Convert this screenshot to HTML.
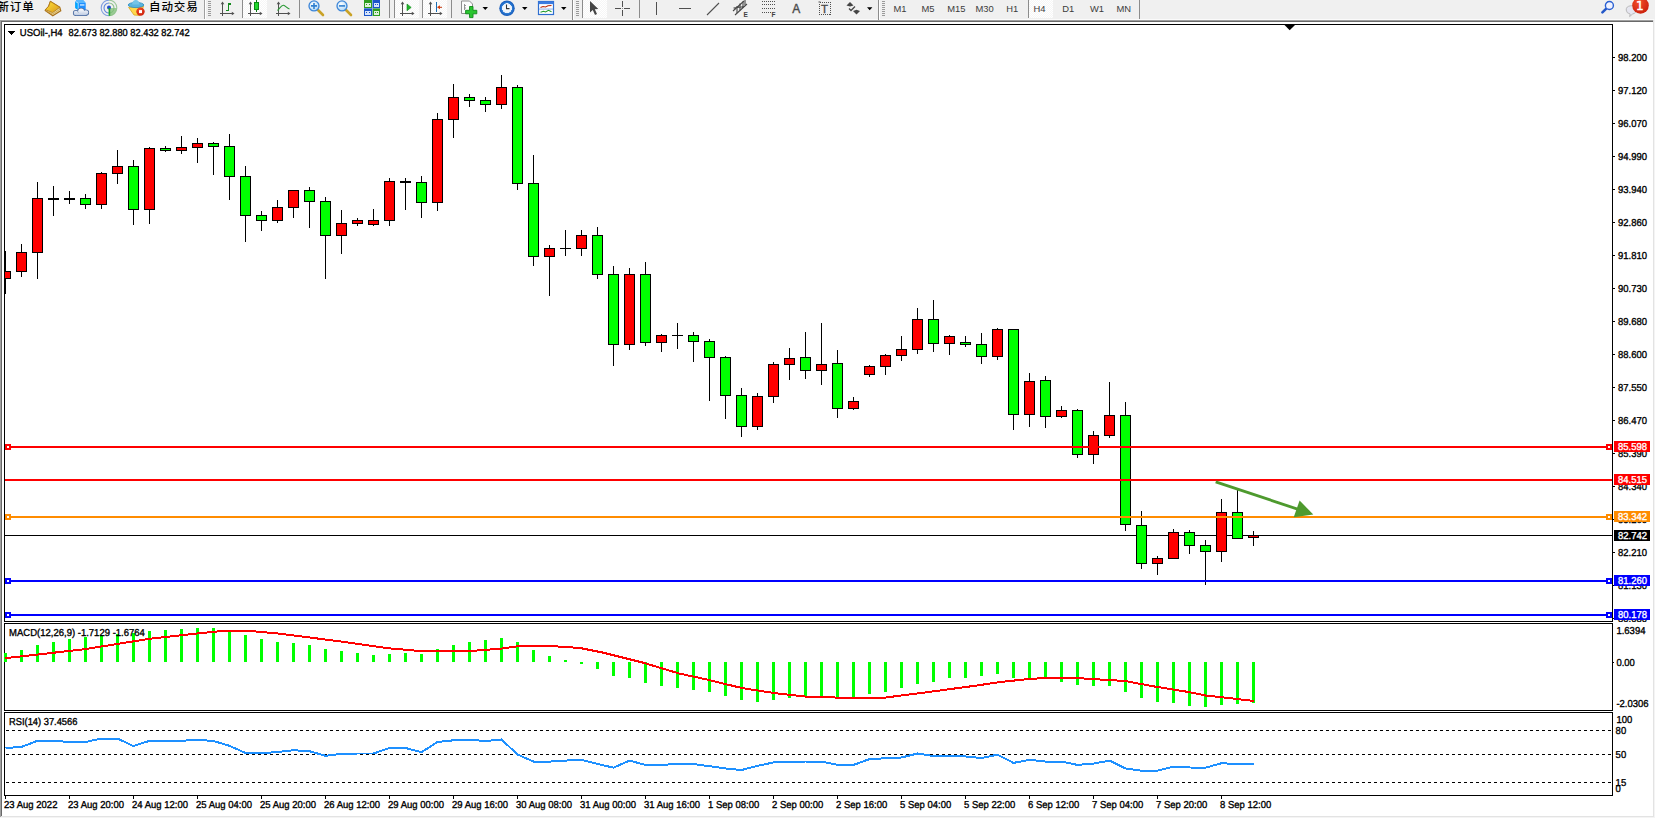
<!DOCTYPE html>
<html lang="zh"><head><meta charset="utf-8"><title>USOil H4</title>
<style>
html,body{margin:0;padding:0;background:#fff;overflow:hidden}
body{width:1655px;height:818px;position:relative;font-family:"Liberation Sans","Noto Sans CJK SC",sans-serif}
#tb{position:absolute;left:0;top:0;width:1655px;height:19px;background:#f0f0f0}
.e{position:absolute}
svg{position:absolute;left:0;top:0}
#chart text{font-family:"Liberation Sans",sans-serif;font-size:9.33px;stroke-width:.32px}
.cj{position:absolute;top:-1px;font-size:11.5px;letter-spacing:.9px;font-weight:500;line-height:16px;color:#000;white-space:nowrap;font-family:"Liberation Sans","Noto Sans CJK SC",sans-serif}
</style></head><body>
<div id="tb"></div>
<div class="e" style="left:0;top:19px;width:1655px;height:1px;background:#fbfbfb"></div>
<div class="e" style="left:0;top:20px;width:1653px;height:1px;background:#a0a0a0"></div>
<div class="e" style="left:1px;top:21px;width:1652px;height:1px;background:#696969"></div>
<div class="e" style="left:0;top:20px;width:1px;height:797px;background:#a0a0a0"></div>
<div class="e" style="left:1px;top:21px;width:1px;height:795px;background:#696969"></div>
<div class="e" style="left:1653px;top:20px;width:1px;height:797px;background:#e3e3e3"></div>
<div class="e" style="left:1654px;top:19px;width:1px;height:799px;background:#f4f4f4"></div>
<div class="e" style="left:1px;top:816px;width:1653px;height:1px;background:#e3e3e3"></div>
<div class="e" style="left:0;top:817px;width:1655px;height:1px;background:#f4f4f4"></div>
<span class="cj" style="left:-2.6px">新订单</span>
<span class="cj" style="left:149px">自动交易</span>
<svg id="tbsvg" width="1655" height="20" viewBox="0 0 1655 20">
<defs>
<linearGradient id="gGold" x1="0" y1="0" x2="1" y2="1"><stop offset="0" stop-color="#ffe23a"/><stop offset="1" stop-color="#d9981c"/></linearGradient>
<linearGradient id="gCloud" x1="0" y1="0" x2="0" y2="1"><stop offset="0" stop-color="#ffffff"/><stop offset="1" stop-color="#b9c7e0"/></linearGradient>
<radialGradient id="gLens" cx=".4" cy=".35" r=".7"><stop offset="0" stop-color="#ffffff"/><stop offset="1" stop-color="#a9d4f5"/></radialGradient>
<radialGradient id="gClock" cx=".5" cy=".5" r=".5"><stop offset="0" stop-color="#ffffff"/><stop offset=".62" stop-color="#e8f0fa"/><stop offset=".66" stop-color="#2f7fd6"/><stop offset="1" stop-color="#1458b8"/></radialGradient>
<radialGradient id="gRed" cx=".4" cy=".3" r=".8"><stop offset="0" stop-color="#f4502a"/><stop offset="1" stop-color="#c61a08"/></radialGradient>
<pattern id="chk" width="2" height="2" patternUnits="userSpaceOnUse"><rect width="2" height="2" fill="#f6f6f6"/><rect width="1" height="1" fill="#ffffff"/><rect x="1" y="1" width="1" height="1" fill="#ffffff"/></pattern>
<linearGradient id="gCloud2" gradientUnits="userSpaceOnUse" x1="0" y1="8.5" x2="0" y2="15.5"><stop offset="0" stop-color="#ffffff"/><stop offset="1" stop-color="#bccae2"/></linearGradient>
</defs>
<!-- book -->
<polygon points="50.4,1.4 59.8,7.3 60.8,10.8 52.8,15.8 45.2,10.4 48.7,6.3" fill="#e9d9a0" stroke="#a8701a" stroke-width="1.2" stroke-linejoin="round"/>
<polygon points="50.4,1.4 59.8,7.3 52.6,12.6 45.4,9.6 48.7,6.3" fill="url(#gGold)" stroke="#b07818" stroke-width=".8" stroke-linejoin="round"/>
<polyline points="45.6,10.6 52.7,14 60.4,9" fill="none" stroke="#c89a3a" stroke-width=".7"/>
<!-- server + cloud -->
<polygon points="75.3,1.5 76.8,0 83,0 85.7,2.9 85.7,10 78.2,10 75.3,8" fill="#1e8fff"/>
<polygon points="75.3,1.5 78.2,2.9 78.2,10 75.3,8" fill="#00a6ff"/>
<polygon points="75.3,1.5 76.8,0 83,0 85.7,2.9 78.2,2.9" fill="#59b8ff"/>
<path d="M75.5,1.6 L78.2,3 V9.6" fill="none" stroke="#d8f0ff" stroke-width=".7"/>
<rect x="80" y="4.2" width="4.4" height="1.5" fill="#bfe2ff"/>
<g stroke="#48699f" stroke-width="1.6" fill="#48699f"><circle cx="75.9" cy="13" r="2.2"/><circle cx="81.1" cy="11.6" r="3"/><circle cx="85.9" cy="12.6" r="2.4"/><rect x="76" y="12.9" width="9.8" height="2.3"/></g>
<g fill="url(#gCloud2)"><circle cx="75.9" cy="13" r="2.2"/><circle cx="81.1" cy="11.6" r="3"/><circle cx="85.9" cy="12.6" r="2.4"/><rect x="76" y="12.9" width="9.8" height="2.3"/></g>
<!-- radar -->
<g fill="none" stroke-width="1.1">
<path d="M109,0.2 a7.8,7.8 0 0 0 0,15.6" stroke="#7f9fe0"/>
<path d="M109,3 a5,5 0 0 0 0,10" stroke="#5f86dc"/>
<path d="M109,0.2 a7.8,7.8 0 0 1 0,15.6" stroke="#9cc79a"/>
<path d="M109,3 a5,5 0 0 1 0,10" stroke="#8abf8a"/>
</g>
<path d="M109.2,8 L116.6,8 A7.6,7.6 0 0 1 109.2,15.8 Z" fill="#7fbf78" opacity=".75"/>
<circle cx="109" cy="7.6" r="2" fill="#2450c8"/>
<rect x="108.6" y="8" width="1.6" height="7.8" fill="#1fa52c"/>
<!-- autotrade -->
<polygon points="128.6,7.3 143.6,6.3 139.6,15.4 134,15" fill="#ffd94c" stroke="#dba520" stroke-width=".8"/>
<ellipse cx="136" cy="5" rx="7.8" ry="2.6" fill="#5ab4de" stroke="#2c8cc0" stroke-width=".8"/>
<path d="M132.2,4.6 C132.2,1 134,0 135.8,0 C137.6,0 139.4,1 139.4,4.6 Z" fill="#74c4e8"/>
<circle cx="140.5" cy="11.6" r="4.2" fill="url(#gRed)"/>
<rect x="139" y="10.1" width="3" height="3" fill="#fff"/>
<!-- separators / grips -->
<g shape-rendering="crispEdges">
<rect x="204" y="0" width="1" height="19" fill="#a0a0a0"/><rect x="205" y="0" width="1" height="19" fill="#fff"/>
<g fill="#9a9a9a">
<rect x="208" y="1" width="3" height="1"/><rect x="208" y="3" width="3" height="1"/><rect x="208" y="5" width="3" height="1"/><rect x="208" y="7" width="3" height="1"/><rect x="208" y="9" width="3" height="1"/><rect x="208" y="11" width="3" height="1"/><rect x="208" y="13" width="3" height="1"/><rect x="208" y="15" width="3" height="1"/>
<rect x="576" y="1" width="3" height="1"/><rect x="576" y="3" width="3" height="1"/><rect x="576" y="5" width="3" height="1"/><rect x="576" y="7" width="3" height="1"/><rect x="576" y="9" width="3" height="1"/><rect x="576" y="11" width="3" height="1"/><rect x="576" y="13" width="3" height="1"/><rect x="576" y="15" width="3" height="1"/>
<rect x="882" y="1" width="3" height="1"/><rect x="882" y="3" width="3" height="1"/><rect x="882" y="5" width="3" height="1"/><rect x="882" y="7" width="3" height="1"/><rect x="882" y="9" width="3" height="1"/><rect x="882" y="11" width="3" height="1"/><rect x="882" y="13" width="3" height="1"/><rect x="882" y="15" width="3" height="1"/>
</g>
<!-- active button backgrounds -->
<rect x="243" y="0" width="24" height="18" fill="url(#chk)"/>
<rect x="395" y="0" width="24" height="18" fill="url(#chk)"/>
<rect x="423" y="0" width="24" height="18" fill="url(#chk)"/>
<rect x="583" y="0" width="24" height="18" fill="url(#chk)"/>
<rect x="1029" y="0" width="24" height="18" fill="url(#chk)"/>
<g fill="#8c8c8c">
<rect x="242" y="0" width="1" height="18"/><rect x="299" y="0" width="1" height="18"/><rect x="389" y="0" width="1" height="18"/><rect x="394" y="0" width="1" height="18"/><rect x="422" y="0" width="1" height="18"/><rect x="451" y="0" width="1" height="18"/>
<rect x="572" y="0" width="1" height="20"/><rect x="582" y="0" width="1" height="18"/><rect x="639" y="0" width="1" height="18"/><rect x="878" y="0" width="1" height="20"/><rect x="1028" y="0" width="1" height="18"/><rect x="1139" y="0" width="1" height="19"/>
</g>
<rect x="573" y="0" width="1" height="19" fill="#fff"/><rect x="879" y="0" width="1" height="19" fill="#fff"/>
</g>
<!-- chart type icons: axes -->
<g stroke="#505050" stroke-width="1" fill="none" shape-rendering="crispEdges">
<path d="M222.5,3 V16 M220,13.5 H233"/><path d="M250.5,3 V16 M248,13.5 H261"/><path d="M278.5,3 V16 M276,13.5 H289"/>
<path d="M402.5,3 V16 M400,13.5 H413"/><path d="M430.5,3 V16 M428,13.5 H441"/>
</g>
<g fill="#505050">
<polygon points="222.5,1.5 220.7,4.2 224.3,4.2"/><polygon points="234.5,13.5 231.8,11.7 231.8,15.3"/>
<polygon points="250.5,1.5 248.7,4.2 252.3,4.2"/><polygon points="262.5,13.5 259.8,11.7 259.8,15.3"/>
<polygon points="278.5,1.5 276.7,4.2 280.3,4.2"/><polygon points="290.5,13.5 287.8,11.7 287.8,15.3"/>
<polygon points="402.5,1.5 400.7,4.2 404.3,4.2"/><polygon points="414.5,13.5 411.8,11.7 411.8,15.3"/>
<polygon points="430.5,1.5 428.7,4.2 432.3,4.2"/><polygon points="442.5,13.5 439.8,11.7 439.8,15.3"/>
</g>
<path d="M226,10.5 H228.5 V4 H231" stroke="#138a1e" stroke-width="1.2" fill="none" shape-rendering="crispEdges"/>
<rect x="256" y="0" width="1" height="12" fill="#0a7a12" shape-rendering="crispEdges"/>
<rect x="254.5" y="2.5" width="4" height="7" fill="#22d72e" stroke="#0a8a14" stroke-width="1" shape-rendering="crispEdges"/>
<path d="M277.5,10.5 C280,8 281.5,4.8 283.5,5.2 C285.5,5.8 287,8.3 289.5,9" stroke="#2a9a35" stroke-width="1.1" fill="none"/>
<!-- zoom in / out -->
<line x1="317.5" y1="9.5" x2="323" y2="15" stroke="#c9a227" stroke-width="2.6" stroke-linecap="round"/>
<circle cx="314" cy="5.9" r="5" fill="url(#gLens)" stroke="#3d86d8" stroke-width="1.3"/>
<path d="M311,5.9 H317 M314,2.9 V8.9" stroke="#2f7fd0" stroke-width="1.6"/>
<line x1="345.5" y1="9.5" x2="351" y2="15" stroke="#c9a227" stroke-width="2.6" stroke-linecap="round"/>
<circle cx="342" cy="5.9" r="5" fill="url(#gLens)" stroke="#3d86d8" stroke-width="1.3"/>
<path d="M339,5.9 H345" stroke="#2f7fd0" stroke-width="1.6"/>
<!-- tile windows -->
<g shape-rendering="crispEdges">
<rect x="364" y="0" width="8" height="8" fill="#2f9e1f"/><rect x="372" y="0" width="8" height="8" fill="#1c55c9"/>
<rect x="364" y="8" width="8" height="8" fill="#1c55c9"/><rect x="372" y="8" width="8" height="8" fill="#2f9e1f"/>
<rect x="372" y="0" width="1" height="16" fill="#9fc0e8" opacity=".7"/><rect x="364" y="8" width="16" height="1" fill="#9fc0e8" opacity=".5"/>
<rect x="365" y="3" width="6" height="4" fill="#dff2da"/><rect x="374" y="3" width="5" height="4" fill="#d6e4fb"/>
<rect x="365" y="11" width="6" height="4" fill="#d6e4fb"/><rect x="374" y="11" width="5" height="4" fill="#dff2da"/>
<rect x="366" y="4" width="1" height="1" fill="#2f9e1f"/><rect x="369" y="4" width="1" height="1" fill="#2f9e1f"/>
<rect x="375" y="4" width="1" height="1" fill="#1c55c9"/><rect x="377" y="4" width="1" height="1" fill="#1c55c9"/>
<rect x="366" y="12" width="1" height="1" fill="#1c55c9"/><rect x="369" y="12" width="1" height="1" fill="#1c55c9"/>
<rect x="375" y="12" width="1" height="1" fill="#2f9e1f"/><rect x="377" y="12" width="1" height="1" fill="#2f9e1f"/>
</g>
<!-- autoscroll / shift -->
<polygon points="407,4 411.2,7.4 407,10.8" fill="#21b52b" stroke="#0e8a18" stroke-width=".6"/>
<rect x="436" y="2" width="1" height="10" fill="#1b6fb5" shape-rendering="crispEdges"/>
<path d="M442,7.3 H438" stroke="#c23a10" stroke-width="1"/><polygon points="437,7.3 440,5.3 440,9.3" fill="#d6400f"/>
<!-- new doc + plus -->
<path d="M461.5,1 H469.5 L472.5,4 V13.5 H461.5 Z" fill="#fbfbfb" stroke="#8f8f8f" stroke-width="1"/>
<path d="M464.5,4 V10 M464.5,5.5 H466 M464.5,8 H466" stroke="#7f7f7f" stroke-width=".8" fill="none"/>
<path d="M469.5,6.5 H473 V10.3 H476.8 V13.8 H473 V17.6 H469.5 V13.8 H465.6 V10.3 H469.5 Z" fill="#29c52f" stroke="#118a1a" stroke-width=".9"/>
<polygon points="482.5,7 488,7 485.25,10" fill="#000"/>
<!-- clock -->
<circle cx="507" cy="8.2" r="7.7" fill="url(#gClock)"/>
<path d="M506.5,4.5 V8.6 H509.5" stroke="#333" stroke-width="1.1" fill="none"/>
<polygon points="522,7 527.5,7 524.75,10" fill="#000"/>
<!-- templates -->
<rect x="538.5" y="1.5" width="15" height="13" fill="#fff" stroke="#2f6fd0" stroke-width="1.2"/>
<rect x="538.5" y="1.5" width="15" height="2.6" fill="#3a7be0"/>
<rect x="539" y="8.6" width="14" height=".9" fill="#7fa8e8"/>
<path d="M540.5,7.5 L543,6.5 L545.5,7 L548,5.8 L551.5,5.5" stroke="#b8280a" stroke-width="1.1" fill="none"/>
<path d="M540.5,12.2 L543.5,11.3 L545.5,12 L548.5,10.3 L551.5,11.8" stroke="#1f9a2a" stroke-width="1.1" fill="none"/>
<polygon points="561,7 566.5,7 563.75,10" fill="#000"/>
<!-- cursor -->
<path d="M590,1 L590,12.5 L592.8,10 L595,15 L597,14 L594.8,9.2 L598.3,9 Z" fill="#454545"/>
<!-- crosshair -->
<g stroke="#505050" stroke-width="1" shape-rendering="crispEdges"><path d="M615,8.5 H621 M624,8.5 H630 M622.5,1 V7 M622.5,10 V16"/></g>
<rect x="622" y="8" width="1" height="1" fill="#909090"/>
<!-- line tools -->
<g stroke="#505050" shape-rendering="crispEdges"><path d="M656.5,2 V15" stroke-width="1"/><path d="M679,8.5 H691" stroke-width="1"/></g>
<line x1="707" y1="15" x2="719" y2="3" stroke="#505050" stroke-width="1.1"/>
<!-- channel -->
<g stroke="#484848" stroke-width="1.1" fill="none"><path d="M733,11 L744,1 M735,15 L747,4 M733.5,8 L745,6.5"/><path d="M737,6 V13 M740,3.5 V10.5 M743,1.5 V8 M745,0 V5"/></g>
<text x="743.6" y="16.8" font-family="Liberation Sans,sans-serif" font-size="6.5" font-weight="bold" fill="#404040">E</text>
<!-- fibo -->
<g stroke="#505050" stroke-width="1" stroke-dasharray="1 1" shape-rendering="crispEdges"><path d="M762,1.5 H775 M762,4.5 H775 M762,8.5 H775 M762,12.5 H771"/></g>
<text x="771.6" y="16.8" font-family="Liberation Sans,sans-serif" font-size="6.5" font-weight="bold" fill="#404040">F</text>
<!-- A -->
<text x="792.3" y="12.6" font-family="Liberation Sans,sans-serif" font-size="12" fill="#4a4a4a" stroke="#4a4a4a" stroke-width=".35">A</text>
<!-- T box -->
<rect x="819.5" y="2.5" width="11" height="12" fill="none" stroke="#505050" stroke-width="1" stroke-dasharray="1 1" shape-rendering="crispEdges"/>
<rect x="818.5" y="1.5" width="2" height="1" fill="#505050"/>
<text x="821" y="12.8" font-family="Liberation Sans,sans-serif" font-size="11.5" fill="#4a4a4a" stroke="#4a4a4a" stroke-width=".35">T</text>
<!-- arrows -->
<polygon points="846.5,5.5 850,2 853.5,5.5 850,6.6" fill="#454545"/>
<polygon points="853,11 856.5,9.8 860,11 856.5,14.5" fill="#454545"/>
<path d="M849,8.5 L851,10.5 L855,6.5" stroke="#454545" stroke-width="1.3" fill="none"/>
<polygon points="867,7.2 872.4,7.2 869.7,10.2" fill="#000"/>
<!-- timeframes -->
<g font-family="Liberation Sans,sans-serif" font-size="9.4" fill="#3c3c3c" text-anchor="middle">
<text x="900" y="11.6">M1</text><text x="928" y="11.6">M5</text><text x="956.4" y="11.6">M15</text><text x="984.5" y="11.6">M30</text><text x="1012.3" y="11.6">H1</text><text x="1039.5" y="11.6">H4</text><text x="1068.2" y="11.6">D1</text><text x="1097" y="11.6">W1</text><text x="1123.8" y="11.6">MN</text>
</g>
<!-- search -->
<line x1="1606" y1="8.9" x2="1602.4" y2="12.4" stroke="#2458c8" stroke-width="2.6" stroke-linecap="round"/>
<circle cx="1609.4" cy="5.5" r="4" fill="#f0f2ff" stroke="#2a60d2" stroke-width="1.4"/>
<!-- chat bubble + badge -->
<path d="M1626.2,10 a5,4.2 0 1 1 6.4,4 l-3,2.6 l.6,-2.6 a5,4.2 0 0 1 -4,-4 z" fill="#e6e6f0" stroke="#b4b4b4" stroke-width=".9"/>
<circle cx="1640.5" cy="5.5" r="8.3" fill="url(#gRed)"/>
<text x="1639.8" y="10" font-family="DejaVu Sans,Liberation Sans,sans-serif" font-size="12" fill="#fff" stroke="#fff" stroke-width=".45" text-anchor="middle">1</text>

</svg>
<svg id="chart" width="1655" height="818" viewBox="0 0 1655 818" shape-rendering="crispEdges">
<defs><clipPath id="cpMain"><rect x="5" y="25" width="1607" height="596"/></clipPath>
<clipPath id="cpAxis"><rect x="1613" y="25" width="40" height="597"/></clipPath></defs>
<rect x="4" y="24" width="1609" height="1" fill="#000"/>
<rect x="4" y="621" width="1609" height="1" fill="#000"/>
<rect x="4" y="24" width="1" height="598" fill="#000"/>
<rect x="1612" y="24" width="1" height="598" fill="#000"/>
<rect x="4" y="623" width="1609" height="1" fill="#000"/>
<rect x="4" y="710" width="1609" height="1" fill="#000"/>
<rect x="4" y="623" width="1" height="88" fill="#000"/>
<rect x="1612" y="623" width="1" height="88" fill="#000"/>
<rect x="4" y="712" width="1609" height="1" fill="#000"/>
<rect x="4" y="795" width="1609" height="1" fill="#000"/>
<rect x="4" y="712" width="1" height="84" fill="#000"/>
<rect x="1612" y="712" width="1" height="84" fill="#000"/>
<g clip-path="url(#cpAxis)">
<rect x="1613" y="57" width="2" height="1" fill="#000"/>
<text transform="translate(1618,61) scale(1.02,1.08) skewX(0.05)" fill="#000" stroke="#000">98.200</text>
<rect x="1613" y="90" width="2" height="1" fill="#000"/>
<text transform="translate(1618,94) scale(1.02,1.08) skewX(0.05)" fill="#000" stroke="#000">97.120</text>
<rect x="1613" y="123" width="2" height="1" fill="#000"/>
<text transform="translate(1618,127) scale(1.02,1.08) skewX(0.05)" fill="#000" stroke="#000">96.070</text>
<rect x="1613" y="156" width="2" height="1" fill="#000"/>
<text transform="translate(1618,160) scale(1.02,1.08) skewX(0.05)" fill="#000" stroke="#000">94.990</text>
<rect x="1613" y="189" width="2" height="1" fill="#000"/>
<text transform="translate(1618,193) scale(1.02,1.08) skewX(0.05)" fill="#000" stroke="#000">93.940</text>
<rect x="1613" y="222" width="2" height="1" fill="#000"/>
<text transform="translate(1618,226) scale(1.02,1.08) skewX(0.05)" fill="#000" stroke="#000">92.860</text>
<rect x="1613" y="255" width="2" height="1" fill="#000"/>
<text transform="translate(1618,259) scale(1.02,1.08) skewX(0.05)" fill="#000" stroke="#000">91.810</text>
<rect x="1613" y="288" width="2" height="1" fill="#000"/>
<text transform="translate(1618,292) scale(1.02,1.08) skewX(0.05)" fill="#000" stroke="#000">90.730</text>
<rect x="1613" y="321" width="2" height="1" fill="#000"/>
<text transform="translate(1618,325) scale(1.02,1.08) skewX(0.05)" fill="#000" stroke="#000">89.680</text>
<rect x="1613" y="354" width="2" height="1" fill="#000"/>
<text transform="translate(1618,358) scale(1.02,1.08) skewX(0.05)" fill="#000" stroke="#000">88.600</text>
<rect x="1613" y="387" width="2" height="1" fill="#000"/>
<text transform="translate(1618,391) scale(1.02,1.08) skewX(0.05)" fill="#000" stroke="#000">87.550</text>
<rect x="1613" y="420" width="2" height="1" fill="#000"/>
<text transform="translate(1618,424) scale(1.02,1.08) skewX(0.05)" fill="#000" stroke="#000">86.470</text>
<rect x="1613" y="453" width="2" height="1" fill="#000"/>
<text transform="translate(1618,457) scale(1.02,1.08) skewX(0.05)" fill="#000" stroke="#000">85.390</text>
<rect x="1613" y="486" width="2" height="1" fill="#000"/>
<text transform="translate(1618,490) scale(1.02,1.08) skewX(0.05)" fill="#000" stroke="#000">84.340</text>
<rect x="1613" y="519" width="2" height="1" fill="#000"/>
<text transform="translate(1618,523) scale(1.02,1.08) skewX(0.05)" fill="#000" stroke="#000">83.260</text>
<rect x="1613" y="552" width="2" height="1" fill="#000"/>
<text transform="translate(1618,556) scale(1.02,1.08) skewX(0.05)" fill="#000" stroke="#000">82.210</text>
<rect x="1613" y="585" width="2" height="1" fill="#000"/>
<text transform="translate(1618,589) scale(1.02,1.08) skewX(0.05)" fill="#000" stroke="#000">81.130</text>
<rect x="1613" y="618" width="2" height="1" fill="#000"/>
<text transform="translate(1618,622) scale(1.02,1.08) skewX(0.05)" fill="#000" stroke="#000">80.080</text>
</g>
<text transform="translate(1616.4,634) scale(1.02,1.08) skewX(0.05)" fill="#000" stroke="#000">1.6394</text>
<text transform="translate(1616.4,666) scale(1.02,1.08) skewX(0.05)" fill="#000" stroke="#000">0.00</text>
<text transform="translate(1616.4,707) scale(1.02,1.08) skewX(0.05)" fill="#000" stroke="#000">-2.0306</text>
<rect x="1613" y="662" width="1" height="1" fill="#000"/>
<text transform="translate(1616.4,723) scale(1.02,1.08) skewX(0.05)" fill="#000" stroke="#000">100</text>
<text transform="translate(1615.6,734) scale(1.02,1.08) skewX(0.05)" fill="#000" stroke="#000">80</text>
<text transform="translate(1615.6,758) scale(1.02,1.08) skewX(0.05)" fill="#000" stroke="#000">50</text>
<text transform="translate(1615.6,786) scale(1.02,1.08) skewX(0.05)" fill="#000" stroke="#000">15</text>
<text transform="translate(1615.6,792) scale(1.02,1.08) skewX(0.05)" fill="#000" stroke="#000">0</text>
<g clip-path="url(#cpMain)">
<rect x="5" y="535" width="1607" height="1" fill="#000"/>
<rect x="5" y="251" width="1" height="43" fill="#000"/>
<rect x="0" y="271" width="11" height="8" fill="#000"/>
<rect x="1" y="272" width="9" height="6" fill="#ff0000"/>
<rect x="21" y="244" width="1" height="33" fill="#000"/>
<rect x="16" y="252" width="11" height="20" fill="#000"/>
<rect x="17" y="253" width="9" height="18" fill="#ff0000"/>
<rect x="37" y="182" width="1" height="97" fill="#000"/>
<rect x="32" y="198" width="11" height="55" fill="#000"/>
<rect x="33" y="199" width="9" height="53" fill="#ff0000"/>
<rect x="53" y="186" width="1" height="30" fill="#000"/>
<rect x="48" y="198" width="11" height="2" fill="#000"/>
<rect x="69" y="191" width="1" height="13" fill="#000"/>
<rect x="64" y="198" width="11" height="2" fill="#000"/>
<rect x="85" y="194" width="1" height="15" fill="#000"/>
<rect x="80" y="198" width="11" height="7" fill="#000"/>
<rect x="81" y="199" width="9" height="5" fill="#00ff00"/>
<rect x="101" y="172" width="1" height="37" fill="#000"/>
<rect x="96" y="173" width="11" height="32" fill="#000"/>
<rect x="97" y="174" width="9" height="30" fill="#ff0000"/>
<rect x="117" y="150" width="1" height="34" fill="#000"/>
<rect x="112" y="166" width="11" height="8" fill="#000"/>
<rect x="113" y="167" width="9" height="6" fill="#ff0000"/>
<rect x="133" y="160" width="1" height="65" fill="#000"/>
<rect x="128" y="166" width="11" height="44" fill="#000"/>
<rect x="129" y="167" width="9" height="42" fill="#00ff00"/>
<rect x="149" y="147" width="1" height="77" fill="#000"/>
<rect x="144" y="148" width="11" height="62" fill="#000"/>
<rect x="145" y="149" width="9" height="60" fill="#ff0000"/>
<rect x="165" y="146" width="1" height="6" fill="#000"/>
<rect x="160" y="148" width="11" height="3" fill="#000"/>
<rect x="161" y="149" width="9" height="1" fill="#00ff00"/>
<rect x="181" y="136" width="1" height="18" fill="#000"/>
<rect x="176" y="147" width="11" height="4" fill="#000"/>
<rect x="177" y="148" width="9" height="2" fill="#ff0000"/>
<rect x="197" y="138" width="1" height="25" fill="#000"/>
<rect x="192" y="143" width="11" height="5" fill="#000"/>
<rect x="193" y="144" width="9" height="3" fill="#ff0000"/>
<rect x="213" y="142" width="1" height="33" fill="#000"/>
<rect x="208" y="143" width="11" height="4" fill="#000"/>
<rect x="209" y="144" width="9" height="2" fill="#00ff00"/>
<rect x="229" y="134" width="1" height="66" fill="#000"/>
<rect x="224" y="146" width="11" height="31" fill="#000"/>
<rect x="225" y="147" width="9" height="29" fill="#00ff00"/>
<rect x="245" y="166" width="1" height="76" fill="#000"/>
<rect x="240" y="176" width="11" height="40" fill="#000"/>
<rect x="241" y="177" width="9" height="38" fill="#00ff00"/>
<rect x="261" y="211" width="1" height="20" fill="#000"/>
<rect x="256" y="215" width="11" height="6" fill="#000"/>
<rect x="257" y="216" width="9" height="4" fill="#00ff00"/>
<rect x="277" y="200" width="1" height="23" fill="#000"/>
<rect x="272" y="207" width="11" height="14" fill="#000"/>
<rect x="273" y="208" width="9" height="12" fill="#ff0000"/>
<rect x="293" y="190" width="1" height="28" fill="#000"/>
<rect x="288" y="190" width="11" height="18" fill="#000"/>
<rect x="289" y="191" width="9" height="16" fill="#ff0000"/>
<rect x="309" y="187" width="1" height="41" fill="#000"/>
<rect x="304" y="190" width="11" height="12" fill="#000"/>
<rect x="305" y="191" width="9" height="10" fill="#00ff00"/>
<rect x="325" y="197" width="1" height="82" fill="#000"/>
<rect x="320" y="201" width="11" height="35" fill="#000"/>
<rect x="321" y="202" width="9" height="33" fill="#00ff00"/>
<rect x="341" y="210" width="1" height="44" fill="#000"/>
<rect x="336" y="223" width="11" height="13" fill="#000"/>
<rect x="337" y="224" width="9" height="11" fill="#ff0000"/>
<rect x="357" y="218" width="1" height="8" fill="#000"/>
<rect x="352" y="220" width="11" height="4" fill="#000"/>
<rect x="353" y="221" width="9" height="2" fill="#ff0000"/>
<rect x="373" y="209" width="1" height="17" fill="#000"/>
<rect x="368" y="220" width="11" height="5" fill="#000"/>
<rect x="369" y="221" width="9" height="3" fill="#ff0000"/>
<rect x="389" y="178" width="1" height="48" fill="#000"/>
<rect x="384" y="181" width="11" height="40" fill="#000"/>
<rect x="385" y="182" width="9" height="38" fill="#ff0000"/>
<rect x="405" y="178" width="1" height="32" fill="#000"/>
<rect x="400" y="181" width="11" height="2" fill="#000"/>
<rect x="421" y="176" width="1" height="42" fill="#000"/>
<rect x="416" y="182" width="11" height="21" fill="#000"/>
<rect x="417" y="183" width="9" height="19" fill="#00ff00"/>
<rect x="437" y="113" width="1" height="98" fill="#000"/>
<rect x="432" y="119" width="11" height="84" fill="#000"/>
<rect x="433" y="120" width="9" height="82" fill="#ff0000"/>
<rect x="453" y="84" width="1" height="54" fill="#000"/>
<rect x="448" y="97" width="11" height="23" fill="#000"/>
<rect x="449" y="98" width="9" height="21" fill="#ff0000"/>
<rect x="469" y="94" width="1" height="13" fill="#000"/>
<rect x="464" y="97" width="11" height="4" fill="#000"/>
<rect x="465" y="98" width="9" height="2" fill="#00ff00"/>
<rect x="485" y="97" width="1" height="15" fill="#000"/>
<rect x="480" y="100" width="11" height="5" fill="#000"/>
<rect x="481" y="101" width="9" height="3" fill="#00ff00"/>
<rect x="501" y="75" width="1" height="34" fill="#000"/>
<rect x="496" y="87" width="11" height="18" fill="#000"/>
<rect x="497" y="88" width="9" height="16" fill="#ff0000"/>
<rect x="517" y="85" width="1" height="105" fill="#000"/>
<rect x="512" y="87" width="11" height="97" fill="#000"/>
<rect x="513" y="88" width="9" height="95" fill="#00ff00"/>
<rect x="533" y="155" width="1" height="111" fill="#000"/>
<rect x="528" y="183" width="11" height="74" fill="#000"/>
<rect x="529" y="184" width="9" height="72" fill="#00ff00"/>
<rect x="549" y="245" width="1" height="51" fill="#000"/>
<rect x="544" y="248" width="11" height="9" fill="#000"/>
<rect x="545" y="249" width="9" height="7" fill="#ff0000"/>
<rect x="565" y="230" width="1" height="26" fill="#000"/>
<rect x="560" y="248" width="11" height="1" fill="#000"/>
<rect x="581" y="230" width="1" height="26" fill="#000"/>
<rect x="576" y="235" width="11" height="14" fill="#000"/>
<rect x="577" y="236" width="9" height="12" fill="#ff0000"/>
<rect x="597" y="227" width="1" height="52" fill="#000"/>
<rect x="592" y="235" width="11" height="40" fill="#000"/>
<rect x="593" y="236" width="9" height="38" fill="#00ff00"/>
<rect x="613" y="266" width="1" height="100" fill="#000"/>
<rect x="608" y="274" width="11" height="71" fill="#000"/>
<rect x="609" y="275" width="9" height="69" fill="#00ff00"/>
<rect x="629" y="268" width="1" height="82" fill="#000"/>
<rect x="624" y="274" width="11" height="71" fill="#000"/>
<rect x="625" y="275" width="9" height="69" fill="#ff0000"/>
<rect x="645" y="262" width="1" height="84" fill="#000"/>
<rect x="640" y="274" width="11" height="69" fill="#000"/>
<rect x="641" y="275" width="9" height="67" fill="#00ff00"/>
<rect x="661" y="334" width="1" height="18" fill="#000"/>
<rect x="656" y="335" width="11" height="8" fill="#000"/>
<rect x="657" y="336" width="9" height="6" fill="#ff0000"/>
<rect x="677" y="323" width="1" height="26" fill="#000"/>
<rect x="672" y="335" width="11" height="1" fill="#000"/>
<rect x="693" y="332" width="1" height="30" fill="#000"/>
<rect x="688" y="335" width="11" height="7" fill="#000"/>
<rect x="689" y="336" width="9" height="5" fill="#00ff00"/>
<rect x="709" y="339" width="1" height="62" fill="#000"/>
<rect x="704" y="341" width="11" height="17" fill="#000"/>
<rect x="705" y="342" width="9" height="15" fill="#00ff00"/>
<rect x="725" y="356" width="1" height="63" fill="#000"/>
<rect x="720" y="357" width="11" height="39" fill="#000"/>
<rect x="721" y="358" width="9" height="37" fill="#00ff00"/>
<rect x="741" y="388" width="1" height="49" fill="#000"/>
<rect x="736" y="395" width="11" height="32" fill="#000"/>
<rect x="737" y="396" width="9" height="30" fill="#00ff00"/>
<rect x="757" y="393" width="1" height="37" fill="#000"/>
<rect x="752" y="396" width="11" height="31" fill="#000"/>
<rect x="753" y="397" width="9" height="29" fill="#ff0000"/>
<rect x="773" y="362" width="1" height="41" fill="#000"/>
<rect x="768" y="364" width="11" height="33" fill="#000"/>
<rect x="769" y="365" width="9" height="31" fill="#ff0000"/>
<rect x="789" y="348" width="1" height="32" fill="#000"/>
<rect x="784" y="358" width="11" height="7" fill="#000"/>
<rect x="785" y="359" width="9" height="5" fill="#ff0000"/>
<rect x="805" y="332" width="1" height="47" fill="#000"/>
<rect x="800" y="357" width="11" height="14" fill="#000"/>
<rect x="801" y="358" width="9" height="12" fill="#00ff00"/>
<rect x="821" y="323" width="1" height="62" fill="#000"/>
<rect x="816" y="364" width="11" height="7" fill="#000"/>
<rect x="817" y="365" width="9" height="5" fill="#ff0000"/>
<rect x="837" y="350" width="1" height="68" fill="#000"/>
<rect x="832" y="363" width="11" height="46" fill="#000"/>
<rect x="833" y="364" width="9" height="44" fill="#00ff00"/>
<rect x="853" y="397" width="1" height="13" fill="#000"/>
<rect x="848" y="401" width="11" height="8" fill="#000"/>
<rect x="849" y="402" width="9" height="6" fill="#ff0000"/>
<rect x="869" y="365" width="1" height="12" fill="#000"/>
<rect x="864" y="366" width="11" height="9" fill="#000"/>
<rect x="865" y="367" width="9" height="7" fill="#ff0000"/>
<rect x="885" y="354" width="1" height="21" fill="#000"/>
<rect x="880" y="355" width="11" height="12" fill="#000"/>
<rect x="881" y="356" width="9" height="10" fill="#ff0000"/>
<rect x="901" y="336" width="1" height="25" fill="#000"/>
<rect x="896" y="349" width="11" height="7" fill="#000"/>
<rect x="897" y="350" width="9" height="5" fill="#ff0000"/>
<rect x="917" y="308" width="1" height="46" fill="#000"/>
<rect x="912" y="319" width="11" height="31" fill="#000"/>
<rect x="913" y="320" width="9" height="29" fill="#ff0000"/>
<rect x="933" y="300" width="1" height="52" fill="#000"/>
<rect x="928" y="319" width="11" height="25" fill="#000"/>
<rect x="929" y="320" width="9" height="23" fill="#00ff00"/>
<rect x="949" y="335" width="1" height="20" fill="#000"/>
<rect x="944" y="336" width="11" height="8" fill="#000"/>
<rect x="945" y="337" width="9" height="6" fill="#ff0000"/>
<rect x="965" y="336" width="1" height="11" fill="#000"/>
<rect x="960" y="342" width="11" height="3" fill="#000"/>
<rect x="961" y="343" width="9" height="1" fill="#00ff00"/>
<rect x="981" y="333" width="1" height="31" fill="#000"/>
<rect x="976" y="344" width="11" height="13" fill="#000"/>
<rect x="977" y="345" width="9" height="11" fill="#00ff00"/>
<rect x="997" y="328" width="1" height="32" fill="#000"/>
<rect x="992" y="329" width="11" height="28" fill="#000"/>
<rect x="993" y="330" width="9" height="26" fill="#ff0000"/>
<rect x="1013" y="329" width="1" height="101" fill="#000"/>
<rect x="1008" y="329" width="11" height="86" fill="#000"/>
<rect x="1009" y="330" width="9" height="84" fill="#00ff00"/>
<rect x="1029" y="373" width="1" height="54" fill="#000"/>
<rect x="1024" y="381" width="11" height="34" fill="#000"/>
<rect x="1025" y="382" width="9" height="32" fill="#ff0000"/>
<rect x="1045" y="376" width="1" height="52" fill="#000"/>
<rect x="1040" y="380" width="11" height="37" fill="#000"/>
<rect x="1041" y="381" width="9" height="35" fill="#00ff00"/>
<rect x="1061" y="406" width="1" height="12" fill="#000"/>
<rect x="1056" y="410" width="11" height="7" fill="#000"/>
<rect x="1057" y="411" width="9" height="5" fill="#ff0000"/>
<rect x="1077" y="409" width="1" height="49" fill="#000"/>
<rect x="1072" y="410" width="11" height="45" fill="#000"/>
<rect x="1073" y="411" width="9" height="43" fill="#00ff00"/>
<rect x="1093" y="431" width="1" height="33" fill="#000"/>
<rect x="1088" y="435" width="11" height="20" fill="#000"/>
<rect x="1089" y="436" width="9" height="18" fill="#ff0000"/>
<rect x="1109" y="382" width="1" height="56" fill="#000"/>
<rect x="1104" y="415" width="11" height="21" fill="#000"/>
<rect x="1105" y="416" width="9" height="19" fill="#ff0000"/>
<rect x="1125" y="402" width="1" height="129" fill="#000"/>
<rect x="1120" y="415" width="11" height="110" fill="#000"/>
<rect x="1121" y="416" width="9" height="108" fill="#00ff00"/>
<rect x="1141" y="511" width="1" height="58" fill="#000"/>
<rect x="1136" y="525" width="11" height="39" fill="#000"/>
<rect x="1137" y="526" width="9" height="37" fill="#00ff00"/>
<rect x="1157" y="556" width="1" height="19" fill="#000"/>
<rect x="1152" y="558" width="11" height="6" fill="#000"/>
<rect x="1153" y="559" width="9" height="4" fill="#ff0000"/>
<rect x="1173" y="529" width="1" height="30" fill="#000"/>
<rect x="1168" y="532" width="11" height="27" fill="#000"/>
<rect x="1169" y="533" width="9" height="25" fill="#ff0000"/>
<rect x="1189" y="530" width="1" height="24" fill="#000"/>
<rect x="1184" y="532" width="11" height="14" fill="#000"/>
<rect x="1185" y="533" width="9" height="12" fill="#00ff00"/>
<rect x="1205" y="540" width="1" height="45" fill="#000"/>
<rect x="1200" y="545" width="11" height="7" fill="#000"/>
<rect x="1201" y="546" width="9" height="5" fill="#00ff00"/>
<rect x="1221" y="499" width="1" height="63" fill="#000"/>
<rect x="1216" y="512" width="11" height="40" fill="#000"/>
<rect x="1217" y="513" width="9" height="38" fill="#ff0000"/>
<rect x="1237" y="490" width="1" height="49" fill="#000"/>
<rect x="1232" y="512" width="11" height="27" fill="#000"/>
<rect x="1233" y="513" width="9" height="25" fill="#00ff00"/>
<rect x="1253" y="531" width="1" height="15" fill="#000"/>
<rect x="1248" y="535" width="11" height="3" fill="#000"/>
<rect x="1249" y="536" width="9" height="1" fill="#ff0000"/>
<rect x="5" y="446" width="1607" height="2" fill="#ff0000"/>
<rect x="5" y="479" width="1607" height="2" fill="#ff0000"/>
<rect x="5" y="516" width="1607" height="2" fill="#ff8c00"/>
<rect x="5" y="580" width="1607" height="2" fill="#0000ff"/>
<rect x="5" y="614" width="1607" height="2" fill="#0000ff"/>
<rect x="5" y="444" width="6" height="6" fill="#ff0000"/>
<rect x="7" y="446" width="2" height="2" fill="#fff"/>
<rect x="1606" y="444" width="6" height="6" fill="#ff0000"/>
<rect x="1608" y="446" width="2" height="2" fill="#fff"/>
<rect x="5" y="514" width="6" height="6" fill="#ff8c00"/>
<rect x="7" y="516" width="2" height="2" fill="#fff"/>
<rect x="1606" y="514" width="6" height="6" fill="#ff8c00"/>
<rect x="1608" y="516" width="2" height="2" fill="#fff"/>
<rect x="5" y="578" width="6" height="6" fill="#0000ff"/>
<rect x="7" y="580" width="2" height="2" fill="#fff"/>
<rect x="1606" y="578" width="6" height="6" fill="#0000ff"/>
<rect x="1608" y="580" width="2" height="2" fill="#fff"/>
<rect x="5" y="612" width="6" height="6" fill="#0000ff"/>
<rect x="7" y="614" width="2" height="2" fill="#fff"/>
<rect x="1606" y="612" width="6" height="6" fill="#0000ff"/>
<rect x="1608" y="614" width="2" height="2" fill="#fff"/>
</g>
<g shape-rendering="auto"><line x1="1215.7" y1="481.8" x2="1299" y2="509.6" stroke="#4e9a2e" stroke-width="2.8"/><polygon points="1299.6,500.4 1293.7,517.3 1313.3,514.6" fill="#4e9a2e"/></g>
<rect x="1614" y="441" width="36" height="11" fill="#ff0000"/>
<text transform="translate(1618,450) scale(1.02,1.08) skewX(0.05)" fill="#fff" stroke="#fff">85.598</text>
<rect x="1614" y="474" width="36" height="11" fill="#ff0000"/>
<text transform="translate(1618,483) scale(1.02,1.08) skewX(0.05)" fill="#fff" stroke="#fff">84.515</text>
<rect x="1614" y="511" width="36" height="11" fill="#ff8c00"/>
<text transform="translate(1618,520) scale(1.02,1.08) skewX(0.05)" fill="#fff" stroke="#fff">83.342</text>
<rect x="1614" y="530" width="36" height="11" fill="#000"/>
<text transform="translate(1618,539) scale(1.02,1.08) skewX(0.05)" fill="#fff" stroke="#fff">82.742</text>
<rect x="1614" y="575" width="36" height="11" fill="#0000ff"/>
<text transform="translate(1618,584) scale(1.02,1.08) skewX(0.05)" fill="#fff" stroke="#fff">81.260</text>
<rect x="1614" y="609" width="36" height="11" fill="#0000ff"/>
<text transform="translate(1618,618) scale(1.02,1.08) skewX(0.05)" fill="#fff" stroke="#fff">80.178</text>
<polygon points="1284.5,25 1295,25 1289.7,30.3" fill="#000" shape-rendering="auto"/>
<polygon points="8,31 15,31 11.5,35" fill="#000"/>
<text transform="translate(19.8,36) scale(1.02,1.08) skewX(0.05)" fill="#000" stroke="#000">USOil-,H4</text>
<text transform="translate(68.5,36) scale(0.995,1.08) skewX(0.05)" fill="#000" stroke="#000">82.673 82.880 82.432 82.742</text>
<rect x="4" y="653" width="3" height="9" fill="#00ff00"/>
<rect x="20" y="650" width="3" height="12" fill="#00ff00"/>
<rect x="36" y="645" width="3" height="17" fill="#00ff00"/>
<rect x="52" y="642" width="3" height="20" fill="#00ff00"/>
<rect x="68" y="639" width="3" height="23" fill="#00ff00"/>
<rect x="84" y="637" width="3" height="25" fill="#00ff00"/>
<rect x="100" y="635" width="3" height="27" fill="#00ff00"/>
<rect x="116" y="634" width="3" height="28" fill="#00ff00"/>
<rect x="132" y="633" width="3" height="29" fill="#00ff00"/>
<rect x="148" y="631" width="3" height="31" fill="#00ff00"/>
<rect x="164" y="630" width="3" height="32" fill="#00ff00"/>
<rect x="180" y="629" width="3" height="33" fill="#00ff00"/>
<rect x="196" y="628" width="3" height="34" fill="#00ff00"/>
<rect x="212" y="628" width="3" height="34" fill="#00ff00"/>
<rect x="228" y="631" width="3" height="31" fill="#00ff00"/>
<rect x="244" y="635" width="3" height="27" fill="#00ff00"/>
<rect x="260" y="639" width="3" height="23" fill="#00ff00"/>
<rect x="276" y="642" width="3" height="20" fill="#00ff00"/>
<rect x="292" y="643" width="3" height="19" fill="#00ff00"/>
<rect x="308" y="645" width="3" height="17" fill="#00ff00"/>
<rect x="324" y="649" width="3" height="13" fill="#00ff00"/>
<rect x="340" y="651" width="3" height="11" fill="#00ff00"/>
<rect x="356" y="653" width="3" height="9" fill="#00ff00"/>
<rect x="372" y="655" width="3" height="7" fill="#00ff00"/>
<rect x="388" y="654" width="3" height="8" fill="#00ff00"/>
<rect x="404" y="653" width="3" height="9" fill="#00ff00"/>
<rect x="420" y="654" width="3" height="8" fill="#00ff00"/>
<rect x="436" y="649" width="3" height="13" fill="#00ff00"/>
<rect x="452" y="645" width="3" height="17" fill="#00ff00"/>
<rect x="468" y="642" width="3" height="20" fill="#00ff00"/>
<rect x="484" y="640" width="3" height="22" fill="#00ff00"/>
<rect x="500" y="638" width="3" height="24" fill="#00ff00"/>
<rect x="516" y="642" width="3" height="20" fill="#00ff00"/>
<rect x="532" y="650" width="3" height="12" fill="#00ff00"/>
<rect x="548" y="656" width="3" height="6" fill="#00ff00"/>
<rect x="564" y="660" width="3" height="2" fill="#00ff00"/>
<rect x="580" y="662" width="3" height="2" fill="#00ff00"/>
<rect x="596" y="662" width="3" height="7" fill="#00ff00"/>
<rect x="612" y="662" width="3" height="14" fill="#00ff00"/>
<rect x="628" y="662" width="3" height="16" fill="#00ff00"/>
<rect x="644" y="662" width="3" height="21" fill="#00ff00"/>
<rect x="660" y="662" width="3" height="24" fill="#00ff00"/>
<rect x="676" y="662" width="3" height="26" fill="#00ff00"/>
<rect x="692" y="662" width="3" height="28" fill="#00ff00"/>
<rect x="708" y="662" width="3" height="30" fill="#00ff00"/>
<rect x="724" y="662" width="3" height="34" fill="#00ff00"/>
<rect x="740" y="662" width="3" height="38" fill="#00ff00"/>
<rect x="756" y="662" width="3" height="40" fill="#00ff00"/>
<rect x="772" y="662" width="3" height="38" fill="#00ff00"/>
<rect x="788" y="662" width="3" height="36" fill="#00ff00"/>
<rect x="804" y="662" width="3" height="34" fill="#00ff00"/>
<rect x="820" y="662" width="3" height="34" fill="#00ff00"/>
<rect x="836" y="662" width="3" height="36" fill="#00ff00"/>
<rect x="852" y="662" width="3" height="36" fill="#00ff00"/>
<rect x="868" y="662" width="3" height="32" fill="#00ff00"/>
<rect x="884" y="662" width="3" height="30" fill="#00ff00"/>
<rect x="900" y="662" width="3" height="26" fill="#00ff00"/>
<rect x="916" y="662" width="3" height="22" fill="#00ff00"/>
<rect x="932" y="662" width="3" height="20" fill="#00ff00"/>
<rect x="948" y="662" width="3" height="16" fill="#00ff00"/>
<rect x="964" y="662" width="3" height="16" fill="#00ff00"/>
<rect x="980" y="662" width="3" height="14" fill="#00ff00"/>
<rect x="996" y="662" width="3" height="12" fill="#00ff00"/>
<rect x="1012" y="662" width="3" height="16" fill="#00ff00"/>
<rect x="1028" y="662" width="3" height="16" fill="#00ff00"/>
<rect x="1044" y="662" width="3" height="16" fill="#00ff00"/>
<rect x="1060" y="662" width="3" height="20" fill="#00ff00"/>
<rect x="1076" y="662" width="3" height="23" fill="#00ff00"/>
<rect x="1092" y="662" width="3" height="24" fill="#00ff00"/>
<rect x="1108" y="662" width="3" height="24" fill="#00ff00"/>
<rect x="1124" y="662" width="3" height="30" fill="#00ff00"/>
<rect x="1140" y="662" width="3" height="36" fill="#00ff00"/>
<rect x="1156" y="662" width="3" height="40" fill="#00ff00"/>
<rect x="1172" y="662" width="3" height="41" fill="#00ff00"/>
<rect x="1188" y="662" width="3" height="44" fill="#00ff00"/>
<rect x="1204" y="662" width="3" height="45" fill="#00ff00"/>
<rect x="1220" y="662" width="3" height="43" fill="#00ff00"/>
<rect x="1236" y="662" width="3" height="42" fill="#00ff00"/>
<rect x="1252" y="662" width="3" height="41" fill="#00ff00"/>
<polyline points="5,658.2 84,649.3 150,638.7 198,633.4 226,630.6 246,630.6 279,633.6 342.6,641.7 388,648.2 415,650.6 476,650.6 501.5,648.6 519,646 550,646 580,648 603,652.6 643.6,662.8 679,673.5 704.6,679 742.6,688.2 775.6,693.2 806,696.6 838,697.6 885,697.6 927,692.2 977.7,685.4 998,682.3 1028.4,679 1046,678 1076.6,678 1092,679 1125,681 1155,686.6 1188,691.9 1206,695.6 1220,697 1254,701" fill="none" stroke="#ff0000" stroke-width="2" shape-rendering="crispEdges"/>
<line x1="6" y1="730.5" x2="1612" y2="730.5" stroke="#000" stroke-width="1" stroke-dasharray="3 3"/>
<line x1="6" y1="754.5" x2="1612" y2="754.5" stroke="#000" stroke-width="1" stroke-dasharray="3 3"/>
<line x1="6" y1="782.5" x2="1612" y2="782.5" stroke="#000" stroke-width="1" stroke-dasharray="3 3"/>
<polyline points="5.5,748.1 21.5,746.9 37.5,740.8 53.5,740.8 69.5,742 85.5,742 101.5,738.5 117.5,738.5 133.5,746.1 149.5,740.8 165.5,740.8 181.5,740.8 197.5,739.8 213.5,741 229.5,745.8 245.5,753 261.5,753.2 277.5,752 293.5,750.2 309.5,751.2 325.5,755.8 341.5,753.8 357.5,753.5 373.5,753.5 389.5,748 405.5,748 421.5,752.2 437.5,742 453.5,740.3 469.5,739.8 485.5,741 501.5,739.5 517.5,754.5 533.5,761.6 549.5,761.6 565.5,760.6 581.5,759.8 597.5,763.9 613.5,767.7 629.5,760.6 645.5,764.9 661.5,764.9 677.5,763.9 693.5,764.1 709.5,766.2 725.5,768.5 741.5,770 757.5,765.9 773.5,762.4 789.5,761.9 805.5,761.5 821.5,761.5 837.5,764.9 853.5,764.9 869.5,759.1 885.5,758.3 901.5,757.5 917.5,753.5 933.5,756 949.5,756 965.5,756.5 981.5,758 997.5,754.7 1013.5,762.9 1029.5,759.8 1045.5,761.6 1061.5,761.6 1077.5,764.9 1093.5,763.6 1109.5,760.6 1125.5,768.5 1141.5,770.7 1157.5,770.7 1173.5,766.7 1189.5,767.5 1205.5,767.7 1221.5,763.2 1237.5,764.1 1253.5,764.1" fill="none" stroke="#1e90ff" stroke-width="2" shape-rendering="crispEdges"/>
<text transform="translate(9,636) scale(1.02,1.08) skewX(0.05)" fill="#000" stroke="#000">MACD(12,26,9) -1.7129 -1.6764</text>
<text transform="translate(9,725) scale(1.0,1.08) skewX(0.05)" fill="#000" stroke="#000">RSI(14) 37.4566</text>
<rect x="5" y="796" width="1" height="3" fill="#000"/>
<text transform="translate(4,808) scale(1.02,1.08) skewX(0.05)" fill="#000" stroke="#000">23 Aug 2022</text>
<rect x="69" y="796" width="1" height="3" fill="#000"/>
<text transform="translate(68,808) scale(1.02,1.08) skewX(0.05)" fill="#000" stroke="#000">23 Aug 20:00</text>
<rect x="133" y="796" width="1" height="3" fill="#000"/>
<text transform="translate(132,808) scale(1.02,1.08) skewX(0.05)" fill="#000" stroke="#000">24 Aug 12:00</text>
<rect x="197" y="796" width="1" height="3" fill="#000"/>
<text transform="translate(196,808) scale(1.02,1.08) skewX(0.05)" fill="#000" stroke="#000">25 Aug 04:00</text>
<rect x="261" y="796" width="1" height="3" fill="#000"/>
<text transform="translate(260,808) scale(1.02,1.08) skewX(0.05)" fill="#000" stroke="#000">25 Aug 20:00</text>
<rect x="325" y="796" width="1" height="3" fill="#000"/>
<text transform="translate(324,808) scale(1.02,1.08) skewX(0.05)" fill="#000" stroke="#000">26 Aug 12:00</text>
<rect x="389" y="796" width="1" height="3" fill="#000"/>
<text transform="translate(388,808) scale(1.02,1.08) skewX(0.05)" fill="#000" stroke="#000">29 Aug 00:00</text>
<rect x="453" y="796" width="1" height="3" fill="#000"/>
<text transform="translate(452,808) scale(1.02,1.08) skewX(0.05)" fill="#000" stroke="#000">29 Aug 16:00</text>
<rect x="517" y="796" width="1" height="3" fill="#000"/>
<text transform="translate(516,808) scale(1.02,1.08) skewX(0.05)" fill="#000" stroke="#000">30 Aug 08:00</text>
<rect x="581" y="796" width="1" height="3" fill="#000"/>
<text transform="translate(580,808) scale(1.02,1.08) skewX(0.05)" fill="#000" stroke="#000">31 Aug 00:00</text>
<rect x="645" y="796" width="1" height="3" fill="#000"/>
<text transform="translate(644,808) scale(1.02,1.08) skewX(0.05)" fill="#000" stroke="#000">31 Aug 16:00</text>
<rect x="709" y="796" width="1" height="3" fill="#000"/>
<text transform="translate(708,808) scale(1.02,1.08) skewX(0.05)" fill="#000" stroke="#000">1 Sep 08:00</text>
<rect x="773" y="796" width="1" height="3" fill="#000"/>
<text transform="translate(772,808) scale(1.02,1.08) skewX(0.05)" fill="#000" stroke="#000">2 Sep 00:00</text>
<rect x="837" y="796" width="1" height="3" fill="#000"/>
<text transform="translate(836,808) scale(1.02,1.08) skewX(0.05)" fill="#000" stroke="#000">2 Sep 16:00</text>
<rect x="901" y="796" width="1" height="3" fill="#000"/>
<text transform="translate(900,808) scale(1.02,1.08) skewX(0.05)" fill="#000" stroke="#000">5 Sep 04:00</text>
<rect x="965" y="796" width="1" height="3" fill="#000"/>
<text transform="translate(964,808) scale(1.02,1.08) skewX(0.05)" fill="#000" stroke="#000">5 Sep 22:00</text>
<rect x="1029" y="796" width="1" height="3" fill="#000"/>
<text transform="translate(1028,808) scale(1.02,1.08) skewX(0.05)" fill="#000" stroke="#000">6 Sep 12:00</text>
<rect x="1093" y="796" width="1" height="3" fill="#000"/>
<text transform="translate(1092,808) scale(1.02,1.08) skewX(0.05)" fill="#000" stroke="#000">7 Sep 04:00</text>
<rect x="1157" y="796" width="1" height="3" fill="#000"/>
<text transform="translate(1156,808) scale(1.02,1.08) skewX(0.05)" fill="#000" stroke="#000">7 Sep 20:00</text>
<rect x="1221" y="796" width="1" height="3" fill="#000"/>
<text transform="translate(1220,808) scale(1.02,1.08) skewX(0.05)" fill="#000" stroke="#000">8 Sep 12:00</text>
</svg>
</body></html>
